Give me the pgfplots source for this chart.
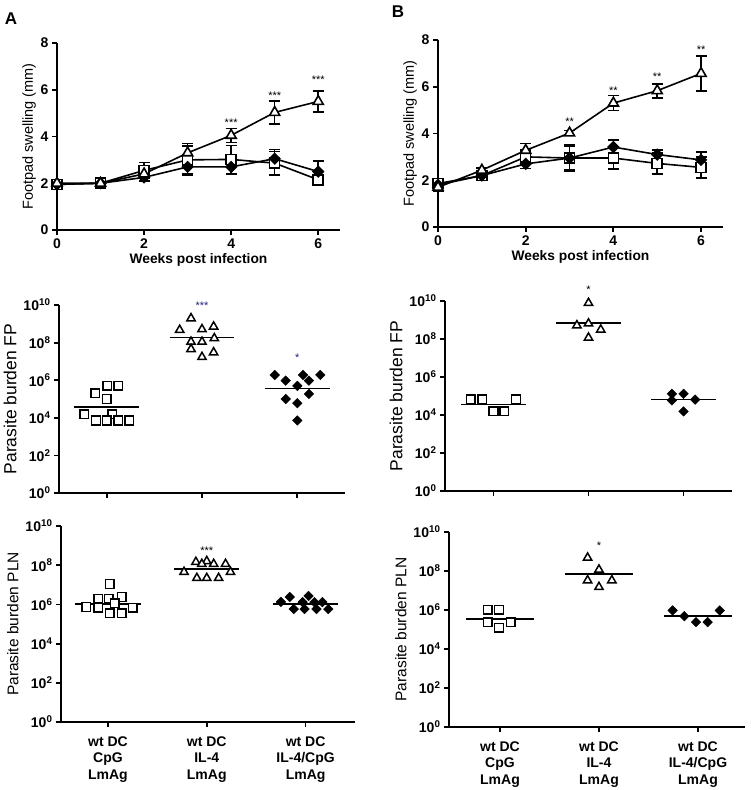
\documentclass[border=0pt]{standalone}
\usepackage{pgfplots}
\pgfplotsset{compat=1.18}
\usepackage{fontspec}
\setmainfont{Liberation Sans}
\definecolor{starblue}{HTML}{22227A}
\pgfplotsset{
 myBase/.style={scale only axis, axis x line*=bottom, axis y line*=left,
   axis line style={line width=1.8pt,-}, every tick/.style={line width=1.8pt,black},
   tick align=outside, major tick length=5pt, clip=false,
   /pgf/number format/assume math mode=true,
   ticklabel style={font=\bfseries\fontsize{14}{14}\selectfont}},
 myLine/.style={myBase, anchor=south west, xmin=0, xmax=6.5, ymin=0, ymax=8,
   xtick={0,2,4,6}, ytick={0,2,4,6,8},
   xlabel={Weeks post infection}, ylabel={Footpad swelling (mm)},
   xlabel style={font=\bfseries\fontsize{13.8}{14}\selectfont, yshift=2pt},
   ylabel style={font=\fontsize{14.5}{15}\selectfont, yshift=-2pt}},
 myLog/.style={myBase, anchor=south west, ymin=1, ymax=1e10,
   ytick={1,1e2,1e4,1e6,1e8,1e10},
   yticklabels={10\textsuperscript{0},10\textsuperscript{2},10\textsuperscript{4},10\textsuperscript{6},10\textsuperscript{8},10\textsuperscript{10}},
   yticklabel style={font=\bfseries\fontsize{14}{14}\selectfont},
   xtick={1,2,3}},
 mTri/.style={black, line width=1.6pt, mark=triangle*, mark options={fill=white, solid, mark size=5.8pt}},
 mSq/.style={black, line width=1.6pt, mark=square*, mark options={fill=white, solid, mark size=5pt}},
 mDia/.style={black, line width=1.6pt, mark=square*, mark options={fill=black, solid, rotate=45, mark size=3.6pt}},
 mEb/.style={error bars/.cd, y dir=both, y explicit, error bar style={line width=1.6pt},
   error mark options={rotate=90, mark size=5.5pt, line width=1.6pt}},
 sTri/.style={only marks, mark=triangle*, mark options={fill=white, draw=black, line width=1.5pt, mark size=4.8pt}},
 sSq/.style={only marks, mark=square*, mark options={fill=white, draw=black, line width=1.5pt, mark size=4.3pt}},
 sDia/.style={only marks, mark=square*, mark options={fill=black, draw=black, rotate=45, mark size=3.4pt}},
 sMean/.style={black, line width=1.7pt, no marks},
 catLabels/.style={xticklabels={{wt DC\\CpG\\LmAg},{wt DC\\IL-4\\LmAg},{wt DC\\IL-4/CpG\\LmAg}},
   xticklabel style={align=center, font=\bfseries\fontsize{14}{16.5}\selectfont, yshift=-6pt}},
}
\newcommand{\starfont}{\fontsize{11}{11}\selectfont}
\begin{document}
\begin{tikzpicture}
\useasboundingbox (0pt,0pt) rectangle (751pt,-790pt);
\node[font=\bfseries\fontsize{17}{17}\selectfont] at (11pt,-19pt) {A};
\node[font=\bfseries\fontsize{17}{17}\selectfont] at (398pt,-12pt) {B};

% ---------- A top ----------
\begin{axis}[myLine, at={(57pt,-230pt)}, width=283pt, height=187pt]
\addplot[mSq, mEb] coordinates {(0,1.95) +- (0,0.05) (1,2.0) +- (0,0.05) (2,2.55) +- (0,0.33) (3,3.0) +- (0,0.6) (4,3.02) +- (0,0.6) (5,2.86) +- (0,0.5) (6,2.15) +- (0,0.2)};
\addplot[mDia, mEb] coordinates {(0,1.95) +- (0,0.05) (1,2.0) +- (0,0.05) (2,2.25) +- (0,0.15) (3,2.7) +- (0,0.35) (4,2.7) +- (0,0.3) (5,3.05) +- (0,0.4) (6,2.5) +- (0,0.45)};
\addplot[mTri, mEb] coordinates {(0,2.0) +- (0,0.05) (1,2.0) +- (0,0.05) (2,2.4) +- (0,0.3) (3,3.3) +- (0,0.4) (4,4.05) +- (0,0.3) (5,5.03) +- (0,0.5) (6,5.5) +- (0,0.45)};
\node[font=\starfont] at (axis cs:4,4.6) {***};
\node[font=\starfont] at (axis cs:5,5.75) {***};
\node[font=\starfont] at (axis cs:6,6.45) {***};
\end{axis}

% ---------- B top ----------
\begin{axis}[myLine, at={(438pt,-227pt)}, width=285pt, height=187pt]
\addplot[mSq, mEb] coordinates {(0,1.86) +- (0,0.1) (1,2.2) +- (0,0.1) (2,3.0) +- (0,0.3) (3,2.95) +- (0,0.55) (4,2.95) +- (0,0.48) (5,2.72) +- (0,0.45) (6,2.55) +- (0,0.45)};
\addplot[mDia, mEb] coordinates {(0,1.8) +- (0,0.1) (1,2.2) +- (0,0.1) (2,2.7) +- (0,0.2) (3,2.95) +- (0,0.5) (4,3.42) +- (0,0.3) (5,3.1) +- (0,0.2) (6,2.87) +- (0,0.33)};
\addplot[mTri, mEb] coordinates {(0,1.7) +- (0,0.15) (1,2.43) +- (0,0.1) (2,3.28) +- (0,0.3) (3,4.02) +- (0,0.1) (4,5.3) +- (0,0.32) (5,5.83) +- (0,0.3) (6,6.57) +- (0,0.75)};
\node[font=\starfont] at (axis cs:3,4.5) {**};
\node[font=\starfont] at (axis cs:4,5.85) {**};
\node[font=\starfont] at (axis cs:5,6.45) {**};
\node[font=\starfont] at (axis cs:6,7.6) {**};
\end{axis}

% ---------- A middle ----------
\begin{axis}[myLog, ymode=log, at={(59pt,-493pt)}, width=286pt, height=188pt, xmin=0.5, xmax=3.5, xticklabels={,,},
  ylabel={Parasite burden FP}, ylabel style={font=\fontsize{17.5}{18}\selectfont}]
\addplot[sSq] coordinates {(0.88,2.0e5) (1.007,5.0e5) (1.12,5.0e5) (1.0,1.0e5) (0.763,1.55e4) (1.06,1.55e4) (0.888,7.2e3) (1.0,7.2e3) (1.122,7.2e3) (1.237,7.2e3)};
\addplot[sMean] coordinates {(0.66,3.7e4) (1.34,3.7e4)};
\addplot[sTri] coordinates {(1.885,1.95e9) (1.766,4.7e8) (2.0,5.1e8) (2.122,7.1e8) (1.885,1.1e8) (2.0,1.1e8) (2.129,1.7e8) (1.885,4.5e7) (2.122,3.0e7) (2.0,1.7e7)};
\addplot[sMean] coordinates {(1.66,1.9e8) (2.34,1.9e8)};
\addplot[sDia] coordinates {(2.763,1.9e6) (2.878,9.5e5) (3.06,1.9e6) (3.122,9.5e5) (3.241,1.9e6) (3.0,5.0e5) (3.122,1.86e5) (2.878,1.0e5) (3.0,6.0e4) (3.0,7.2e3)};
\addplot[sMean] coordinates {(2.66,3.6e5) (3.34,3.6e5)};
\node[font=\starfont, text=starblue] at (axis cs:2,9e9) {***};
\node[font=\starfont, text=starblue] at (axis cs:3,1.5e7) {*};
\end{axis}

% ---------- B middle ----------
\begin{axis}[myLog, ymode=log, at={(445pt,-491pt)}, width=287pt, height=190pt, xmin=0.49, xmax=3.51, xticklabels={,,},
  ylabel={Parasite burden FP}, ylabel style={font=\fontsize{17.5}{18}\selectfont}]
\addplot[sSq] coordinates {(0.759,6.6e4) (0.881,6.6e4) (1.237,6.6e4) (1.0,1.55e4) (1.115,1.55e4)};
\addplot[sMean] coordinates {(0.66,3.6e4) (1.34,3.6e4)};
\addplot[sTri] coordinates {(2.0,7.8e9) (1.878,5.2e8) (2.0,6.5e8) (2.129,3.1e8) (2.0,1.17e8)};
\addplot[sMean] coordinates {(1.66,6.9e8) (2.34,6.9e8)};
\addplot[sDia] coordinates {(2.878,1.3e5) (3.0,1.3e5) (2.878,5.9e4) (3.122,6.5e4) (3.0,1.55e4)};
\addplot[sMean] coordinates {(2.66,6.5e4) (3.34,6.5e4)};
\node[font=\starfont] at (axis cs:2,4e10) {*};
\end{axis}

% ---------- A bottom ----------
\begin{axis}[myLog, ymode=log, catLabels, at={(61pt,-722pt)}, width=294pt, height=196pt, xmin=0.525, xmax=3.5,
  ylabel={Parasite burden PLN}, ylabel style={font=\fontsize{15.5}{16}\selectfont}]
\addplot[sSq] coordinates {(1.02,1.1e7) (0.9,1.9e6) (1.01,1.9e6) (1.14,2.4e6) (0.78,7.4e5) (0.9,6.6e5) (1.07,1.17e6) (1.25,6.6e5) (1.02,3.6e5) (1.14,3.6e5)};
\addplot[sMean] coordinates {(0.67,1.05e6) (1.33,1.05e6)};
\addplot[sTri] coordinates {(1.89,1.45e8) (2.0,1.6e8) (1.95,1.15e8) (2.07,1.15e8) (2.19,1.15e8) (1.77,4.5e7) (2.24,4.5e7) (1.9,2.2e7) (2.0,2.2e7) (2.12,2.2e7)};
\addplot[sMean] coordinates {(1.67,6.3e7) (2.33,6.3e7)};
\addplot[sDia] coordinates {(2.75,1.35e6) (2.84,2.4e6) (3.03,2.7e6) (2.97,1.3e6) (3.09,1.3e6) (3.17,1.3e6) (2.88,5.8e5) (2.99,5.8e5) (3.11,5.8e5) (3.23,5.8e5)};
\addplot[sMean] coordinates {(2.67,1.05e6) (3.33,1.05e6)};
\node[font=\starfont] at (axis cs:2,5.5e8) {***};
\end{axis}

% ---------- B bottom ----------
\begin{axis}[myLog, ymode=log, catLabels, at={(449pt,-727pt)}, width=296pt, height=195pt, xmin=0.485, xmax=3.475,
  ylabel={Parasite burden PLN}, ylabel style={font=\fontsize{15.5}{16}\selectfont}]
\addplot[sSq] coordinates {(0.875,1.05e6) (0.99,1.05e6) (0.875,2.4e5) (1.11,2.4e5) (0.99,1.23e5)};
\addplot[sMean] coordinates {(0.66,3.6e5) (1.34,3.6e5)};
\addplot[sTri] coordinates {(1.885,4.8e8) (2.0,1.17e8) (1.885,3.3e7) (2.13,3.3e7) (2.0,1.5e7)};
\addplot[sMean] coordinates {(1.66,6.8e7) (2.34,6.8e7)};
\addplot[sDia] coordinates {(2.744,9.5e5) (3.22,9.5e5) (2.862,4.8e5) (2.98,2.4e5) (3.098,2.4e5)};
\addplot[sMean] coordinates {(2.66,5.1e5) (3.34,5.1e5)};
\node[font=\starfont] at (axis cs:2,2e9) {*};
\end{axis}
\end{tikzpicture}
\end{document}
